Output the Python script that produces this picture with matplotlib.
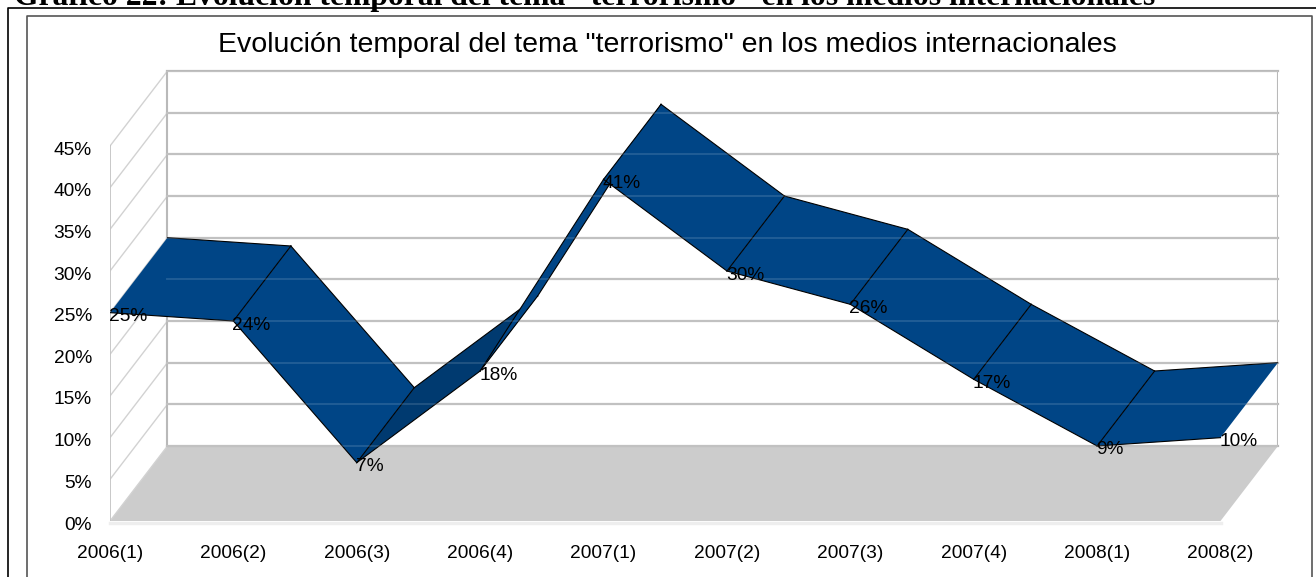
import matplotlib
matplotlib.use('Agg')
import matplotlib.pyplot as plt
from matplotlib.lines import Line2D
from matplotlib.transforms import ScaledTranslation

plt.rcParams['font.family'] = ['Liberation Sans', 'DejaVu Sans']

# data
periods = ['2006(1)', '2006(2)', '2006(3)', '2006(4)', '2007(1)',
           '2007(2)', '2007(3)', '2007(4)', '2008(1)', '2008(2)']
values = [25, 24, 7, 18, 41, 30, 26, 17, 9, 10]
yticks = [0, 5, 10, 15, 20, 25, 30, 35, 40, 45]

heading = 'Gráfico 22: Evolución temporal del tema "terrorismo" en los medios internacionales'
title = 'Evolución temporal del tema "terrorismo" en los medios internacionales'

W, H = 1316, 577
dx = 0.466   # depth of the 3D box, in categories
dy = 9.0     # depth of the 3D box, in percent units

fig = plt.figure(figsize=(W / 100, H / 100), dpi=100)
ax = fig.add_axes([110 / W, (H - 521) / H, 1168 / W, 450 / H])
ax.set_xlim(0, 9 + dx)
ax.set_ylim(0, 45 + dy)
for s in ax.spines.values():
    s.set_visible(False)
ax.patch.set_visible(False)

wall = '#b9b9b9'
xmax = len(periods) - 1

# floor and its thin front edge
ax.fill([0, xmax, xmax + dx, dx], [0, 0, dy, dy], color='#cccccc', lw=0, zorder=1)
ax.plot([0, xmax], [-0.25, -0.25], color='#eeeeee', lw=2.5, clip_on=False, zorder=1)

# back wall and side wall
for t in yticks:
    yb = t + dy
    ax.plot([0, dx], [t, yb], color='#d2d2d2', lw=1, zorder=1)
    ax.plot([dx, xmax + dx], [yb, yb], color=wall, lw=1.6, clip_on=False, zorder=1)
ax.plot([dx, dx], [dy, 45 + dy], color=wall, lw=1.5, zorder=1)
ax.plot([xmax + dx, xmax + dx], [dy, 45 + dy], color=wall, lw=1.5, zorder=1)
ax.plot([0, 0], [0, 45], color='#c4c4c4', lw=1.3, zorder=1)

# ribbon, one piece per segment, drawn left to right
for i in range(len(values) - 1):
    y0, y1 = values[i], values[i + 1]
    col = '#003a70' if i == 2 else '#004586'
    ax.fill([i, i + 1, i + 1 + dx, i + dx], [y0, y1, y1 + dy, y0 + dy],
            facecolor=col, edgecolor='none', zorder=3 + i * 0.1)
    ax.plot([i, i + 1], [y0, y1], color='black', lw=0.8, zorder=3 + i * 0.1)
    ax.plot([i + dx, i + 1 + dx], [y0 + dy, y1 + dy], color='black', lw=0.8, zorder=3 + i * 0.1)
    if i > 0:
        ax.plot([i, i + dx], [y0, y0 + dy], color='black', lw=0.8, zorder=3 + i * 0.1)

# gridlines shine a little through the ribbon
for t in yticks:
    ax.plot([dx, xmax + dx], [t + dy, t + dy], color='white', alpha=0.13, lw=1.4, zorder=5)

# value labels
for i, v in enumerate(values):
    ax.annotate(str(v) + '%', (i, v), xytext=(-1, -4), textcoords='offset pixels',
                ha='left', va='center', fontsize=13.8, color='black', zorder=6)

ax.set_xticks(range(len(periods)))
ax.set_xticklabels(periods)
ax.set_yticks(yticks)
ax.set_yticklabels([str(t) + '%' for t in yticks])
ax.tick_params(axis='x', length=0, pad=17, labelsize=13.8)
ax.tick_params(axis='y', length=0, pad=13, labelsize=13.8)
down = ScaledTranslation(0, -2 / 100, fig.dpi_scale_trans)
for lab in ax.get_yticklabels():
    lab.set_transform(lab.get_transform() + down)

# heading and chart title
fig.text(14 / W, 1 + 3 / H, heading, family=['Liberation Serif'], fontweight='bold',
         fontsize=22.8, ha='left', va='center')
fig.text(667 / W, (H - 45.5) / H, title, fontsize=20.5, ha='center', va='center')


def frame(xs, ys, color):
    fig.add_artist(Line2D([x / W for x in xs], [(H - y) / H for y in ys],
                          color=color, lw=1.2))


# document box and chart frame
frame([8, 8, W], [H, 7.5, 7.5], 'black')
frame([26.5, 26.5, 1312, 1312], [H, 15.5, 15.5, H], '#555555')

fig.savefig('out.png', dpi=100)
